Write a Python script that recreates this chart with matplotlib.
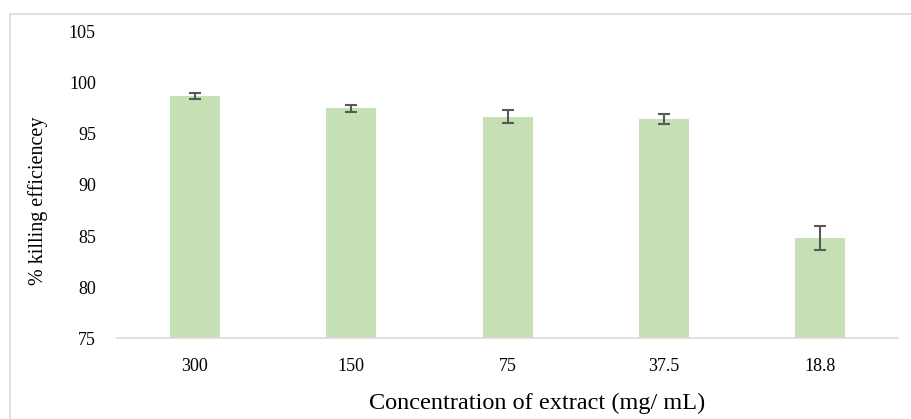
import matplotlib.pyplot as plt
from matplotlib.patches import Rectangle

# data
concentrations = ["300", "150", "75", "37.5", "18.8"]
efficiency = [98.7, 97.5, 96.7, 96.5, 84.8]
errors = [0.3, 0.35, 0.65, 0.5, 1.15]

plt.rcParams['font.family'] = ['Liberation Serif', 'DejaVu Serif']

fig = plt.figure(figsize=(9.12, 4.19), dpi=100)
ax = fig.add_axes([0.128, 0.193, 0.857, 0.731])

x = range(len(concentrations))
ax.bar(x, efficiency, width=0.32, color='#c5e0b4', zorder=2,
       yerr=errors, error_kw=dict(ecolor='#595959', elinewidth=1.5, capsize=4, capthick=1.5))

ax.set_xlim(-0.5, len(concentrations) - 0.5)
ax.set_ylim(75, 105)
ax.set_yticks(range(75, 106, 5))
ax.set_xticks(list(x))
ax.set_xticklabels(concentrations)
ax.tick_params(axis='both', length=0, labelsize=13, colors='#000000')
ax.tick_params(axis='x', pad=14)
ax.tick_params(axis='y', pad=15)

for s in ['top', 'right', 'left']:
    ax.spines[s].set_visible(False)
ax.spines['bottom'].set_color('#d9d9d9')
ax.spines['bottom'].set_linewidth(1.2)

ax.set_ylabel('% killing efficiencey', fontsize=14.5)
ax.set_xlabel('Concentration of extract (mg/ mL)', fontsize=17.5)
ax.yaxis.set_label_coords(-0.088, 0.45)
ax.xaxis.set_label_coords(0.538, -0.18)

# outer chart border
fig.patches.append(Rectangle((10 / 912, -0.05), 1.0, 1 - 14 / 419 + 0.05,
                             transform=fig.transFigure, fill=False,
                             edgecolor='#d9d9d9', linewidth=1.2))

fig.savefig('out.png', dpi=100)
